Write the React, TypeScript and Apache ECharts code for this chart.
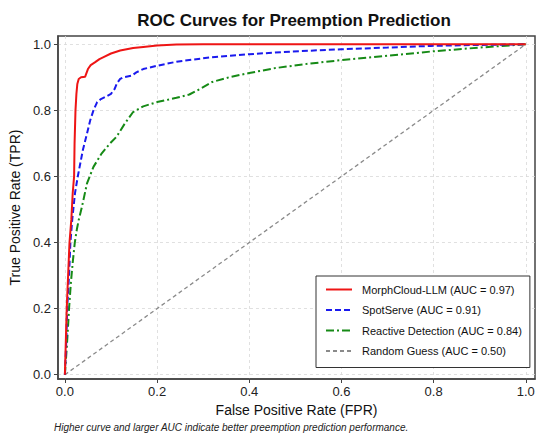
import React, { useEffect, useRef } from "react";
import * as echarts from "echarts";

const seriesNames = [
  "MorphCloud-LLM (AUC = 0.97)",
  "SpotServe (AUC = 0.91)",
  "Reactive Detection (AUC = 0.84)",
  "Random Guess (AUC = 0.50)",
];

const morphFpr = [0, 0.002, 0.004, 0.007, 0.01, 0.014, 0.017, 0.02, 0.021, 0.023, 0.025, 0.027, 0.03, 0.035, 0.044, 0.05, 0.056, 0.065, 0.075, 0.085, 0.1, 0.12, 0.148, 0.17, 0.2, 0.242, 0.3, 1.0];
const morphTpr = [0, 0.1, 0.2, 0.3, 0.4, 0.47, 0.55, 0.6, 0.7, 0.8, 0.85, 0.88, 0.895, 0.9, 0.902, 0.925, 0.937, 0.945, 0.955, 0.962, 0.972, 0.981, 0.989, 0.992, 0.996, 0.999, 1.0, 1.0];

const spotFpr = [0, 0.003, 0.005, 0.009, 0.012, 0.016, 0.022, 0.028, 0.039, 0.048, 0.055, 0.062, 0.07, 0.077, 0.087, 0.1, 0.108, 0.113, 0.12, 0.127, 0.145, 0.155, 0.17, 0.2, 0.242, 0.313, 0.4, 0.492, 0.6, 0.7, 0.794, 0.9, 1.0];
const spotTpr = [0, 0.1, 0.2, 0.3, 0.4, 0.47, 0.55, 0.6, 0.68, 0.73, 0.77, 0.8, 0.825, 0.833, 0.84, 0.85, 0.865, 0.882, 0.895, 0.9, 0.905, 0.915, 0.925, 0.935, 0.947, 0.96, 0.97, 0.978, 0.985, 0.99, 0.995, 0.998, 1.0];

const reactiveFpr = [0, 0.004, 0.007, 0.009, 0.013, 0.017, 0.0215, 0.026, 0.03, 0.037, 0.048, 0.062, 0.08, 0.098, 0.112, 0.13, 0.148, 0.17, 0.2, 0.242, 0.27, 0.295, 0.32, 0.356, 0.4, 0.457, 0.528, 0.6, 0.7, 0.794, 0.9, 1.0];
const reactiveTpr = [0, 0.08, 0.15, 0.2, 0.278, 0.34, 0.4, 0.44, 0.468, 0.508, 0.579, 0.629, 0.67, 0.7, 0.72, 0.76, 0.795, 0.812, 0.825, 0.838, 0.848, 0.866, 0.886, 0.9, 0.913, 0.928, 0.941, 0.952, 0.965, 0.978, 0.99, 1.0];

const randomFpr = [0, 1];
const randomTpr = [0, 1];

const tickValues = [0, 0.2, 0.4, 0.6, 0.8, 1.0];

const titleText = "ROC Curves for Preemption Prediction";
const xName = "False Positive Rate (FPR)";
const yName = "True Positive Rate (TPR)";
const footnote = "Higher curve and larger AUC indicate better preemption prediction performance.";

const zip = (xs: number[], ys: number[]) => xs.map((x, i) => [x, ys[i]]);

const FONT = "'Liberation Sans', Arial, Helvetica, sans-serif";

export default function App() {
  const ref = useRef<HTMLDivElement>(null);
  useEffect(() => {
    document.body.style.margin = "0";
    if (!ref.current) return;
    const chart = echarts.init(ref.current, undefined, { renderer: "svg" });
    const axisCommon = {
      type: "value" as const,
      axisLine: { show: true, onZero: false, lineStyle: { color: "#444", width: 1.5 } },
      axisTick: { show: true, inside: false, length: 4, lineStyle: { color: "#444", width: 1 }, customValues: tickValues },
      axisLabel: {
        color: "#222",
        fontSize: 13,
        fontFamily: FONT,
        customValues: tickValues,
        formatter: (v: number) => v.toFixed(1),
      },
      splitLine: { show: true, lineStyle: { color: "#d8d8d8", type: [3, 3], width: 0.8 } },
      nameLocation: "middle" as const,
      nameTextStyle: { color: "#111", fontSize: 14, fontFamily: FONT },
    };
    chart.setOption({
      animation: false,
      backgroundColor: "#ffffff",
      textStyle: { fontFamily: FONT },
      grid: {
        left: 54,
        right: 15,
        top: 36,
        bottom: 63,
        show: true,
        borderColor: "#444",
        borderWidth: 1.5,
        backgroundColor: "transparent",
      },
      xAxis: {
        ...axisCommon,
        min: -0.015,
        max: 1.02,
        name: xName,
        nameGap: 22,
        axisLabel: { ...axisCommon.axisLabel, margin: 6 },
      },
      yAxis: {
        ...axisCommon,
        min: -0.013,
        max: 1.025,
        name: yName,
        nameGap: 33,
        axisLabel: { ...axisCommon.axisLabel, margin: 7 },
      },
      legend: {
        orient: "vertical",
        left: 316,
        top: 276,
        data: seriesNames,
        itemWidth: 26,
        itemHeight: 12,
        itemGap: 9.5,
        padding: [8, 8, 11, 9],
        backgroundColor: "#ffffff",
        borderColor: "#333",
        borderWidth: 1,
        borderRadius: 0,
        itemStyle: { opacity: 0 },
        textStyle: { fontSize: 11, color: "#111", fontFamily: FONT, padding: [0, 0, 0, 5] },
      },
      graphic: [
        {
          type: "text",
          x: 294,
          y: 20,
          style: {
            text: titleText,
            font: `bold 17px ${FONT}`,
            fill: "#111",
            textAlign: "center",
            textVerticalAlign: "middle",
          },
        },
        {
          type: "text",
          x: 54,
          y: 427,
          style: {
            text: footnote,
            font: `italic 10px ${FONT}`,
            fill: "#222",
            textAlign: "left",
            textVerticalAlign: "middle",
          },
        },
      ],
      series: [
        {
          name: seriesNames[0],
          type: "line",
          data: zip(morphFpr, morphTpr),
          symbol: "none",
          showSymbol: false,
          lineStyle: { color: "#ee1515", width: 2, type: "solid" },
          itemStyle: { color: "#ee1515" },
          z: 4,
        },
        {
          name: seriesNames[1],
          type: "line",
          data: zip(spotFpr, spotTpr),
          symbol: "none",
          showSymbol: false,
          lineStyle: { color: "#1a1aee", width: 2, type: [6, 3] },
          itemStyle: { color: "#1a1aee" },
          z: 3,
        },
        {
          name: seriesNames[2],
          type: "line",
          data: zip(reactiveFpr, reactiveTpr),
          symbol: "none",
          showSymbol: false,
          lineStyle: { color: "#168a16", width: 2, type: [8, 3, 2, 3] },
          itemStyle: { color: "#168a16" },
          z: 2,
        },
        {
          name: seriesNames[3],
          type: "line",
          data: zip(randomFpr, randomTpr),
          symbol: "none",
          showSymbol: false,
          lineStyle: { color: "#8a8a8a", width: 1.3, type: [4, 3] },
          itemStyle: { color: "#8a8a8a" },
          z: 1,
        },
      ],
    });
    return () => chart.dispose();
  }, []);
  return (
    <div
      ref={ref}
      style={{ position: "absolute", left: 0, top: 0, width: 550, height: 442, background: "#fff" }}
    />
  );
}
